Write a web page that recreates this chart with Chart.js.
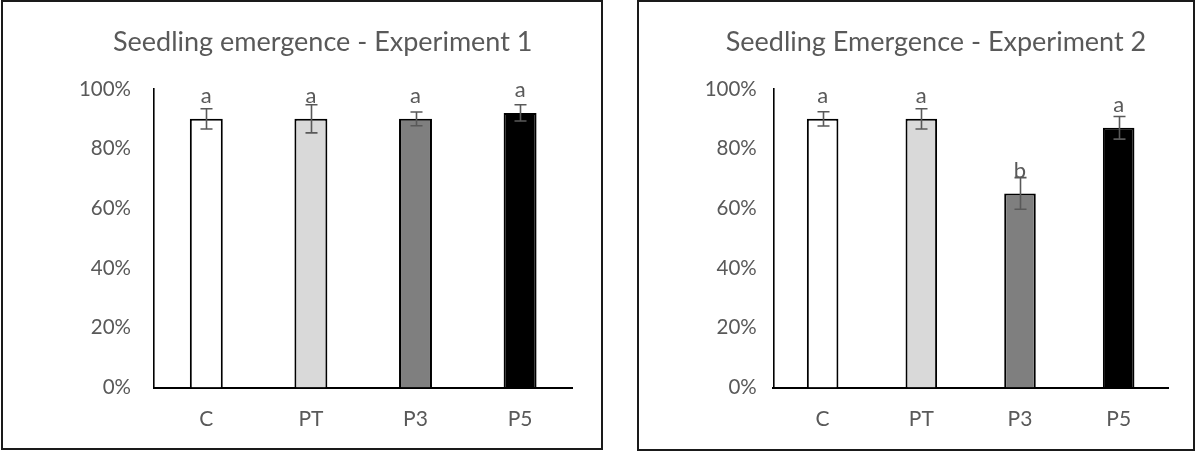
<!DOCTYPE html>
<html>
<head>
<meta charset="utf-8">
<script src="https://cdn.jsdelivr.net/npm/chart.js@4.4.1/dist/chart.umd.min.js"></script>
<style>
  html, body { margin: 0; padding: 0; background: #fff; }
  body { position: relative; width: 1196px; height: 452px; overflow: hidden; font-family: Lato, "Open Sans", sans-serif; }
  .frame { position: absolute; box-sizing: border-box; border: 2px solid #1a1a1a; pointer-events: none; z-index: 2; }
  canvas { position: absolute; top: 0; }
</style>
</head>
<body>
<div class="frame" style="left:1px; top:0; width:602px; height:450px;"></div>
<div class="frame" style="left:637px; top:0; width:558px; height:451px;"></div>
<canvas id="exp1" width="529" height="452" style="left:73px; width:529px; height:452px;"></canvas>
<canvas id="exp2" width="490" height="452" style="left:704px; width:490px; height:452px;"></canvas>
<script>
// Treatments
const categories = ['C', 'PT', 'P3', 'P5'];

// Mean emergence (fraction) and standard errors per experiment
const exp1Values = [0.90, 0.90, 0.90, 0.92];
const exp1Errors = [0.034, 0.047, 0.023, 0.027];
const exp1Letters = ['a', 'a', 'a', 'a'];

const exp2Values = [0.90, 0.90, 0.65, 0.87];
const exp2Errors = [0.024, 0.034, 0.053, 0.038];
const exp2Letters = ['a', 'a', 'b', 'a'];

// Y axis tick labels
const yTickLabels = ['0%', '20%', '40%', '60%', '80%', '100%'];

const barFills = ['#ffffff', '#d9d9d9', '#7f7f7f', '#000000'];
const textGray = '#595959';
const fontFamily = 'Lato, "Open Sans", sans-serif';

// Draws error bars and significance letters above every bar
const errorBarPlugin = {
  id: 'errorBars',
  afterDatasetsDraw(chart, args, opts) {
    const ctx = chart.ctx;
    const meta = chart.getDatasetMeta(0);
    const yScale = chart.scales.y;
    const values = chart.data.datasets[0].data;
    ctx.save();
    ctx.strokeStyle = textGray;
    ctx.lineWidth = 1.6;
    meta.data.forEach((bar, i) => {
      const x = Math.round(bar.x) + 0.5;
      const top = yScale.getPixelForValue(values[i] + opts.errors[i]);
      const bottom = yScale.getPixelForValue(values[i] - opts.errors[i]);
      ctx.beginPath();
      ctx.moveTo(x, top); ctx.lineTo(x, bottom);
      ctx.moveTo(x - 6, top); ctx.lineTo(x + 6, top);
      ctx.moveTo(x - 6, bottom); ctx.lineTo(x + 6, bottom);
      ctx.stroke();
    });
    ctx.fillStyle = textGray;
    ctx.font = '22px ' + fontFamily;
    ctx.textAlign = 'center';
    ctx.textBaseline = 'alphabetic';
    meta.data.forEach((bar, i) => {
      const yTop = yScale.getPixelForValue(values[i]);
      ctx.fillText(opts.letters[i], bar.x, yTop - 15.5);
    });
    ctx.restore();
  }
};

function makeChart(id, title, values, errors, letters, g) {
  return new Chart(document.getElementById(id), {
    type: 'bar',
    data: {
      labels: categories,
      datasets: [{
        data: values,
        backgroundColor: barFills,
        borderColor: '#000000',
        borderWidth: 2,
        borderSkipped: 'bottom',
        categoryPercentage: 1,
        barPercentage: g.barPct
      }]
    },
    options: {
      responsive: false,
      animation: false,
      devicePixelRatio: 1,
      layout: { padding: { left: 0, right: g.padRight, top: 0, bottom: 0 } },
      plugins: {
        legend: { display: false },
        tooltip: { enabled: false },
        title: {
          display: true,
          text: title,
          color: textGray,
          font: { family: fontFamily, size: 27, weight: 'normal', lineHeight: 1.2 },
          padding: { top: 25.8, bottom: 30.8 }
        },
        errorBars: { errors: errors, letters: letters }
      },
      scales: {
        x: {
          grid: { display: false, drawTicks: false },
          border: { display: true, color: '#000000', width: 2 },
          ticks: { color: textGray, font: { family: fontFamily, size: 21 }, padding: 19.5 },
          afterFit(scale) { scale.height = 64.5; }
        },
        y: {
          min: 0, max: 1,
          grid: { display: false, drawTicks: false },
          border: { display: true, color: '#000000', width: 1.6 },
          ticks: {
            stepSize: 0.2,
            color: textGray,
            font: { family: fontFamily, size: 20.5 },
            padding: g.tickPad,
            callback: (v, i) => yTickLabels[i]
          },
          afterFit(scale) { scale.width = g.yWidth; }
        }
      }
    },
    plugins: [errorBarPlugin]
  });
}

makeChart('exp1', 'Seedling emergence - Experiment 1', exp1Values, exp1Errors, exp1Letters,
  { barPct: 0.315, padRight: 29.6, yWidth: 81, tickPad: 23 });
makeChart('exp2', 'Seedling Emergence - Experiment 2', exp2Values, exp2Errors, exp2Letters,
  { barPct: 0.32, padRight: 26, yWidth: 69.3, tickPad: 16.5 });
</script>
</body>
</html>
